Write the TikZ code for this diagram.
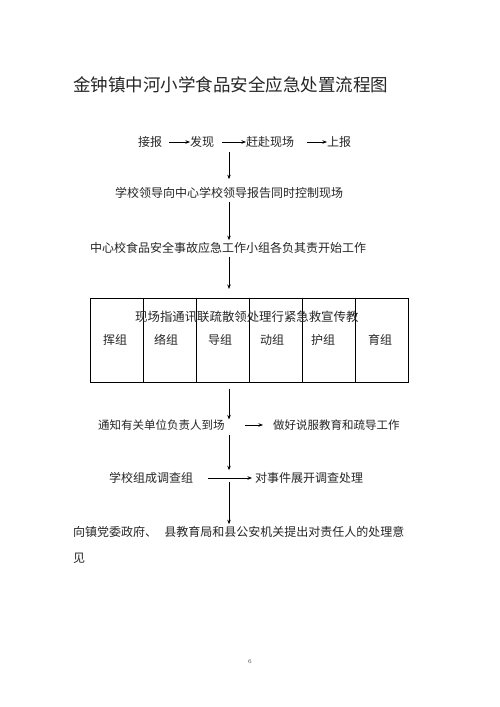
\documentclass[tikz,border=0pt]{standalone}
\usepackage{fontspec}
\newfontfamily\cjk{Noto Sans CJK SC}
\usetikzlibrary{arrows.meta}
\begin{document}
\begin{tikzpicture}[x=1pt,y=-1pt,
  txt/.style={inner sep=0pt,anchor=west,font=\cjk\fontsize{12}{12}\selectfont,text=black!85},
  ttl/.style={inner sep=0pt,anchor=west,font=\cjk\fontsize{17.5}{17.5}\selectfont,text=black!85},
  arr/.style={draw=black,line width=0.7pt,-{Stealth[length=4.5pt,width=3.5pt]}},
  col/.style={draw=black,line width=0.6pt,minimum width=53pt,minimum height=84pt,inner sep=0pt,anchor=north west}]
\useasboundingbox (0,0) rectangle (500,707);
\fill[white] (0,0) rectangle (500,707);
\node[ttl] (title) at (73,85) {金钟镇中河小学食品安全应急处置流程图};
\coordinate (vx) at (229,0);
% row 1
\node[txt] (t1) at (138,142) {接报};
\node[txt] (t2) at (190,142) {发现};
\node[txt] (t3) at (246,142) {赶赴现场};
\node[txt] (t4) at (327,142) {上报};
\draw[arr,shorten <=7pt] (t1) -- (t2);
\draw[arr,shorten <=8pt] (t2) -- (t3);
\draw[arr,shorten <=13pt] (t3) -- (t4);
\node[txt,anchor=center] (l2) at (229,193) {学校领导向中心学校领导报告同时控制现场};
\draw[arr,shorten <=4pt,shorten >=8pt] (t2.south -| vx) -- (l2.north -| vx);
\node[txt] (l3) at (90,248) {中心校食品安全事故应急工作小组各负其责开始工作};
\draw[arr,shorten <=3pt,shorten >=2pt] (l2.south -| vx) -- (l3.north -| vx);
% box
\node[col] (c1) at (90,298) {};
\node[col] (c2) at (143,298) {};
\node[col] (c3) at (196,298) {};
\node[col] (c4) at (249,298) {};
\node[col] (c5) at (302,298) {};
\node[col] (c6) at (355,298) {};
\draw[arr,shorten <=3pt,shorten >=9pt] (l3.south -| vx) -- (c3.north -| vx);
\node[txt,font=\cjk\fontsize{12.4}{12.4}\selectfont] (hdr) at (135,317) {现场指通讯联疏散领处理行紧急救宣传教};
\node[txt,anchor=center] (g1) at (115,340) {挥组};
\node[txt,anchor=center] (g2) at (166,340) {络组};
\node[txt,anchor=center] (g3) at (220,340) {导组};
\node[txt,anchor=center] (g4) at (272,340) {动组};
\node[txt,anchor=center] (g5) at (323,340) {护组};
\node[txt,anchor=center] (g6) at (380,340) {育组};
% lower part
\node[txt,font=\cjk\fontsize{11.5}{11.5}\selectfont] (l4) at (98,425) {通知有关单位负责人到场};
\node[txt,font=\cjk\fontsize{11.5}{11.5}\selectfont] (l5) at (273,425) {做好说服教育和疏导工作};
\draw[arr,shorten <=6pt] (c3.south -| vx) -- (l4.north -| vx);
\draw[arr,shorten <=20pt,shorten >=10pt] (l4) -- (l5);
\node[txt] (l6) at (109,478) {学校组成调查组};
\node[txt] (l7) at (255,478) {对事件展开调查处理};
\draw[arr,shorten <=4pt,shorten >=2pt] (l4.south -| vx) -- (l6.north -| vx);
\draw[arr,shorten <=15pt,shorten >=3pt] (l6) -- (l7);
\node[txt] (l8) at (73,532) {向镇党委政府、\hspace{0.6em}县教育局和县公安机关提出对责任人的处理意};
\node[txt] (l9) at (73,558) {见};
\draw[arr,shorten <=-2pt,shorten >=2pt] (l6.south -| vx) -- (l8.north -| vx);
\node[inner sep=0pt,font=\fontsize{6}{6}\selectfont,text=black!70] (pg) at (250,662) {6};
\end{tikzpicture}
\end{document}
